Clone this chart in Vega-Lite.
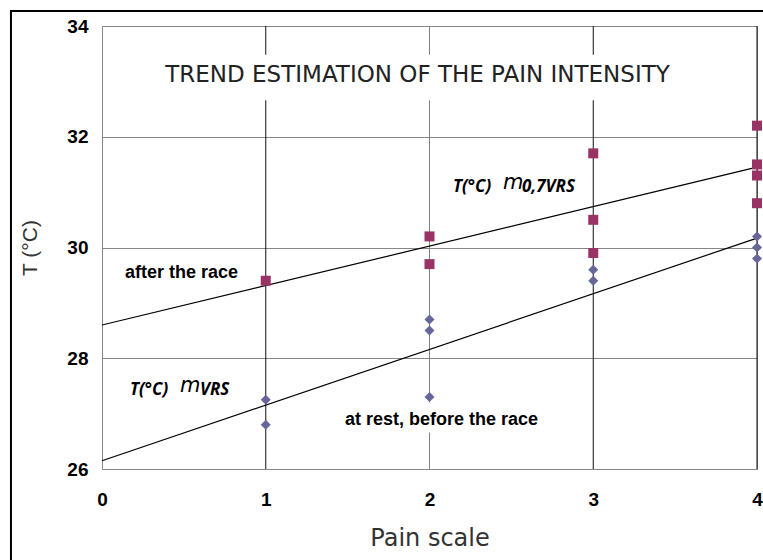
{
  "$schema": "https://vega.github.io/schema/vega-lite/v6.json",
  "width": 655,
  "height": 443,
  "autosize": {"type": "none"},
  "padding": {"left": 102, "top": 26, "right": 6, "bottom": 91},
  "background": "white",
  "config": {
    "view": {"stroke": "#868686", "strokeWidth": 1},
    "font": "Liberation Sans"
  },
  "datasets": {
    "points": [
      {"series": "after the race", "pain": 1, "temp": 29.4},
      {"series": "after the race", "pain": 2, "temp": 30.2},
      {"series": "after the race", "pain": 2, "temp": 29.7},
      {"series": "after the race", "pain": 3, "temp": 31.7},
      {"series": "after the race", "pain": 3, "temp": 30.5},
      {"series": "after the race", "pain": 3, "temp": 29.9},
      {"series": "after the race", "pain": 4, "temp": 32.2},
      {"series": "after the race", "pain": 4, "temp": 31.5},
      {"series": "after the race", "pain": 4, "temp": 31.3},
      {"series": "after the race", "pain": 4, "temp": 30.8},
      {"series": "at rest", "pain": 1, "temp": 27.25},
      {"series": "at rest", "pain": 1, "temp": 26.8},
      {"series": "at rest", "pain": 2, "temp": 28.7},
      {"series": "at rest", "pain": 2, "temp": 28.5},
      {"series": "at rest", "pain": 2, "temp": 27.3},
      {"series": "at rest", "pain": 3, "temp": 29.6},
      {"series": "at rest", "pain": 3, "temp": 29.4},
      {"series": "at rest", "pain": 4, "temp": 30.2},
      {"series": "at rest", "pain": 4, "temp": 30.0},
      {"series": "at rest", "pain": 4, "temp": 29.8}
    ],
    "trends": [
      {"series": "after the race", "pain": 0, "temp": 28.6},
      {"series": "after the race", "pain": 4, "temp": 31.45},
      {"series": "at rest", "pain": 0, "temp": 26.15},
      {"series": "at rest", "pain": 4, "temp": 30.17}
    ],
    "vlines": [{"pain": 1}, {"pain": 2}, {"pain": 3}, {"pain": 4}],
    "masks": [
      {"x1": 0.3, "x2": 3.7, "y1": 33.48, "y2": 32.66},
      {"x1": 1.45, "x2": 2.72, "y1": 27.2, "y2": 26.66}
    ],
    "frame": [{"x1": -0.556, "x2": 4.3, "y1": 34.27, "y2": 20}],
    "labels": [
      {"label": "TREND ESTIMATION OF THE PAIN INTENSITY", "pain": 1.927, "temp": 33.12}
    ],
    "boldlabels": [
      {"label": "after the race", "pain": 0.14, "temp": 29.54},
      {"label": "at rest, before the race", "pain": 1.484, "temp": 26.88}
    ],
    "italiclabels": [
      {"label": "T(°C)", "pain": 2.143, "temp": 31.1},
      {"label": "0,7VRS", "pain": 2.565, "temp": 31.1},
      {"label": "T(°C)", "pain": 0.171, "temp": 27.43},
      {"label": "VRS", "pain": 0.598, "temp": 27.43}
    ],
    "mlabels": [
      {"label": "m", "pain": 2.449, "temp": 31.16},
      {"label": "m", "pain": 0.476, "temp": 27.49}
    ]
  },
  "layer": [
    {
      "data": {"name": "vlines"},
      "mark": {"type": "rule", "strokeWidth": 1},
      "encoding": {
        "x": {
          "field": "pain",
          "type": "quantitative",
          "scale": {"domain": [0, 4], "nice": false, "zero": false},
          "axis": {
            "values": [0, 1, 2, 3, 4],
            "format": "d",
            "title": "Pain scale",
            "grid": false,
            "ticks": false,
            "domain": false,
            "labelFont": "Liberation Sans",
            "labelFontWeight": "bold",
            "labelFontSize": 19,
            "labelColor": "#000000",
            "labelPadding": 21,
            "titleFont": "DejaVu Sans",
            "titleFontWeight": "normal",
            "titleFontSize": 24,
            "titleColor": "#333333",
            "titlePadding": 17,
            "labelFlush": false
          }
        },
        "color": {
          "condition": {"test": "datum.pain == 2", "value": "#808080"},
          "value": "#111111"
        }
      }
    },
    {
      "data": {"name": "masks"},
      "mark": {"type": "rect", "fill": "white", "stroke": null},
      "encoding": {
        "x": {"field": "x1", "type": "quantitative"},
        "x2": {"field": "x2"},
        "y": {"field": "y1", "type": "quantitative"},
        "y2": {"field": "y2"}
      }
    },
    {
      "data": {"name": "trends"},
      "mark": {"type": "line", "color": "#000000", "strokeWidth": 1.2},
      "encoding": {
        "x": {"field": "pain", "type": "quantitative"},
        "y": {"field": "temp", "type": "quantitative"},
        "detail": {"field": "series"}
      }
    },
    {
      "data": {"name": "points"},
      "mark": {"type": "point", "filled": true, "opacity": 1, "size": 100},
      "encoding": {
        "x": {"field": "pain", "type": "quantitative"},
        "y": {
          "field": "temp",
          "type": "quantitative",
          "scale": {"domain": [26, 34], "nice": false, "zero": false},
          "axis": {
            "values": [26, 28, 30, 32, 34],
            "format": "d",
            "title": "T (°C)",
            "grid": true,
            "gridColor": "#868686",
            "gridWidth": 1,
            "gridOpacity": 1,
            "ticks": false,
            "domain": false,
            "labelFont": "Liberation Sans",
            "labelFontWeight": "bold",
            "labelFontSize": 19,
            "labelColor": "#000000",
            "labelPadding": 14,
            "titleFont": "Liberation Sans",
            "titleFontWeight": "normal",
            "titleFontSize": 21,
            "titleColor": "#333333",
            "titlePadding": 26,
            "labelFlush": false
          }
        },
        "shape": {
          "field": "series",
          "type": "nominal",
          "scale": {"domain": ["after the race", "at rest"], "range": ["square", "diamond"]},
          "legend": null
        },
        "color": {
          "field": "series",
          "type": "nominal",
          "scale": {"domain": ["after the race", "at rest"], "range": ["#993366", "#666699"]},
          "legend": null
        }
      }
    },
    {
      "data": {"name": "labels"},
      "mark": {"type": "text", "font": "DejaVu Sans", "fontSize": 23, "color": "#222222", "align": "center", "baseline": "middle"},
      "encoding": {
        "x": {"field": "pain", "type": "quantitative"},
        "y": {"field": "temp", "type": "quantitative"},
        "text": {"field": "label"}
      }
    },
    {
      "data": {"name": "boldlabels"},
      "mark": {"type": "text", "font": "Liberation Sans", "fontWeight": "bold", "fontSize": 18, "color": "#000000", "align": "left", "baseline": "middle"},
      "encoding": {
        "x": {"field": "pain", "type": "quantitative"},
        "y": {"field": "temp", "type": "quantitative"},
        "text": {"field": "label"}
      }
    },
    {
      "data": {"name": "italiclabels"},
      "mark": {"type": "text", "font": "Open Sans", "fontWeight": "bold", "fontStyle": "italic", "fontSize": 17, "color": "#000000", "align": "left", "baseline": "middle"},
      "encoding": {
        "x": {"field": "pain", "type": "quantitative"},
        "y": {"field": "temp", "type": "quantitative"},
        "text": {"field": "label"}
      }
    },
    {
      "data": {"name": "mlabels"},
      "mark": {"type": "text", "font": "DejaVu Sans", "fontStyle": "italic", "fontSize": 21, "color": "#000000", "align": "left", "baseline": "middle"},
      "encoding": {
        "x": {"field": "pain", "type": "quantitative"},
        "y": {"field": "temp", "type": "quantitative"},
        "text": {"field": "label"}
      }
    },
    {
      "data": {"name": "frame"},
      "mark": {"type": "rect", "fill": null, "fillOpacity": 0, "stroke": "#000000", "strokeWidth": 2, "clip": false},
      "encoding": {
        "x": {"field": "x1", "type": "quantitative"},
        "x2": {"field": "x2"},
        "y": {"field": "y1", "type": "quantitative"},
        "y2": {"field": "y2"}
      }
    }
  ]
}
